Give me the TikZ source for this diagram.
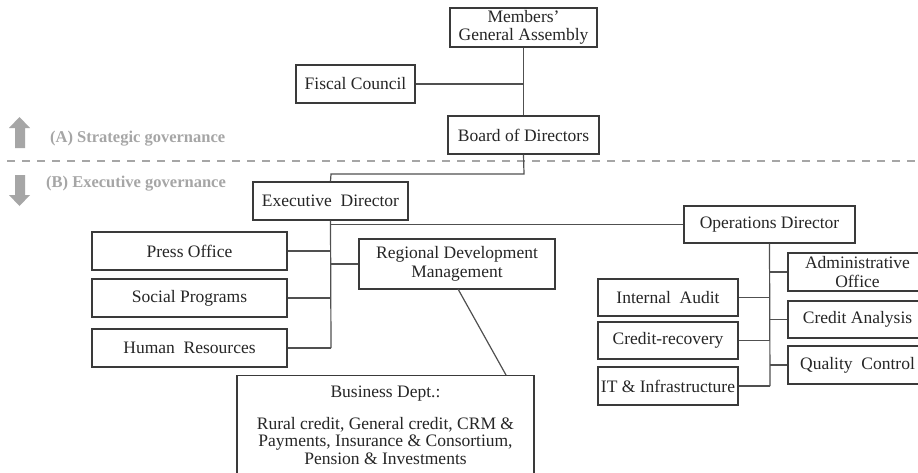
\documentclass[tikz,border=0pt]{standalone}
\usepackage{fontspec}
\setmainfont{Liberation Serif}
\definecolor{boxline}{HTML}{3A3A3A}
\definecolor{txt}{HTML}{262626}
\definecolor{conn}{HTML}{505050}
\definecolor{govgray}{HTML}{A6A6A6}
\tikzset{
  orgbox/.style={draw=boxline, line width=1.3pt, text=txt, inner sep=0pt, align=center,
    font=\fontsize{17.5}{18.5}\selectfont},
  link/.style={draw=conn, line width=1.2pt},
  govtext/.style={text=govgray, anchor=west, inner sep=0pt, font=\fontsize{16.5}{18}\selectfont\bfseries},
  govarrow/.style={fill=govgray, draw=none}
}
\begin{document}
\begin{tikzpicture}[x=1pt,y=-1pt]
\useasboundingbox (0,0) rectangle (918,472);
\clip (0,0) rectangle (918,472);
\fill[white] (0,0) rectangle (918,472);

% governance divider
\draw[govgray, line width=2pt, dash pattern=on 8pt off 7pt] (7,161) -- (918,161);
\fill[govarrow] (15,148) -- (15,128) -- (9,128) -- (19.5,117) -- (30,128) -- (25,128) -- (25,148) -- cycle;
\fill[govarrow] (15,175) -- (15,195) -- (9,195) -- (19.5,206) -- (30,195) -- (25,195) -- (25,175) -- cycle;
\node[govtext] (ga) at (50,139) {(A) Strategic governance};
\node[govtext] (gb) at (46,184) {(B) Executive governance};

% boxes
\node[orgbox, minimum width=147pt, minimum height=39pt] (mga) at (523.5,27.5) {Members’\\General Assembly};
\node[orgbox, minimum width=119pt, minimum height=38pt] (fc) at (355.5,84) {Fiscal Council};
\node[orgbox, minimum width=151pt, minimum height=38pt] (bod) at (523.5,135) {Board of Directors};
\node[orgbox, minimum width=155pt, minimum height=38pt] (ed) at (330.5,201) {Executive\ \ Director};
\node[orgbox, minimum width=171pt, minimum height=37pt] (od) at (769.5,224.5) {Operations Director};

\node[orgbox, minimum width=195pt, minimum height=38pt] (po) at (189.5,251) {Press Office};
\node[orgbox, minimum width=195pt, minimum height=38pt] (sp) at (189.5,298) {Social Programs};
\node[orgbox, minimum width=195pt, minimum height=38pt] (hr) at (189.5,348) {Human\ \ Resources};
\node[orgbox, minimum width=196pt, minimum height=50pt] (rdm) at (457,264) {Regional Development\\Management};
\node[orgbox, minimum width=297pt, minimum height=120pt, anchor=north] (bd) at (385.5,375) {};
\node[text=txt, align=center, anchor=north, inner sep=0pt, font=\fontsize{17.5}{18.5}\selectfont] (bdt) at (385.5,386) {Business Dept.:};
\node[text=txt, align=center, anchor=north, inner sep=0pt, font=\fontsize{17.5}{17.5}\selectfont] (bdl) at (385.5,417) {Rural credit, General credit, CRM \&\\Payments, Insurance \& Consortium,\\Pension \& Investments};

\node[orgbox, minimum width=140pt, minimum height=37pt] (ia) at (668,297.5) {Internal\ \ Audit};
\node[orgbox, minimum width=140pt, minimum height=37pt] (cr) at (668,340.5) {Credit-recovery};
\node[orgbox, minimum width=140pt, minimum height=38pt] (it) at (668,386) {IT \& Infrastructure};
\node[orgbox, minimum width=139pt, minimum height=38pt] (ao) at (857.5,272) {Administrative\\Office};
\node[orgbox, minimum width=139pt, minimum height=37pt] (ca) at (857.5,319.5) {Credit Analysis};
\node[orgbox, minimum width=139pt, minimum height=38pt] (qc) at (857.5,365) {Quality\ \ Control};

% connector coordinates
\coordinate (j1) at (524,84);
\coordinate (j2) at (524,174);
\coordinate (j3) at (331,174);
\coordinate (e1) at (331,224.5);
\coordinate (e2) at (331,251);
\coordinate (e3) at (331,298);
\coordinate (e4) at (331,348);
\coordinate (e5) at (331,264);
\coordinate (o1) at (770,386);
\coordinate (o2) at (770,297.5);
\coordinate (o3) at (770,340.5);
\coordinate (o4) at (770,272);
\coordinate (o5) at (770,319.5);
\coordinate (o6) at (770,365);
\coordinate (rb) at (458,289);
\coordinate (bt) at (506,375);

% connectors
\draw[link] (mga.south) -- (bod.north);
\draw[link] (fc.east) -- (j1);
\draw[link] (bod.south) -- (j2) -- (j3) -- (ed.north);
\draw[link] (ed.south) -- (e4);
\draw[link] (e1) -- (od.west);
\draw[link] (po.east) -- (e2);
\draw[link] (sp.east) -- (e3);
\draw[link] (hr.east) -- (e4);
\draw[link] (e5) -- (rdm.west);
\draw[link] (rb) -- (bt);
\draw[link] (od.south) -- (o1);
\draw[link] (it.east) -- (o1);
\draw[link] (ia.east) -- (o2);
\draw[link] (cr.east) -- (o3);
\draw[link] (o4) -- (ao.west);
\draw[link] (o5) -- (ca.west);
\draw[link] (o6) -- (qc.west);
\end{tikzpicture}
\end{document}
